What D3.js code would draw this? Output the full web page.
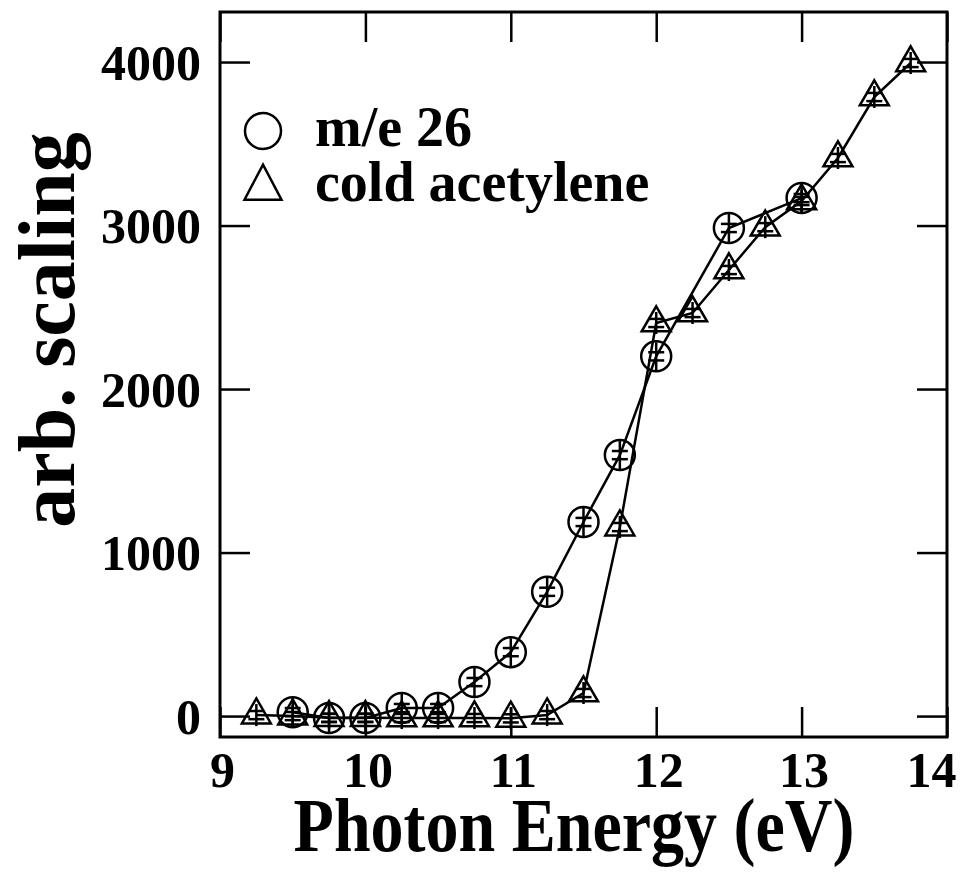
<!DOCTYPE html>
<html>
<head>
<meta charset="utf-8">
<script src="https://cdn.jsdelivr.net/npm/d3@7"></script>
<style>
  html, body { margin: 0; padding: 0; background: #fff; }
  svg { display: block; }
  text { font-family: "Liberation Serif", "Times New Roman", serif; font-weight: bold; fill: #000; }
</style>
</head>
<body>
<svg id="chart" width="961" height="885"></svg>
<script>
// Photoionization yield vs photon energy
const circleEnergy = [9.5, 9.75, 10.0, 10.25, 10.5, 10.75, 11.0, 11.25, 11.5, 11.75, 12.0, 12.5, 13.0];
const circleSignal = [24, -12, -12, 49, 49, 208, 391, 760, 1187, 1596, 2200, 2985, 3168];
const circleError  = [25, 25, 25, 25, 25, 25, 25, 25, 25, 25, 25, 25, 25];

const triEnergy = [9.25, 9.5, 9.75, 10.0, 10.25, 10.5, 10.75, 11.0, 11.25, 11.5, 11.75, 12.0, 12.25, 12.5, 12.75, 13.0, 13.25, 13.5, 13.75];
const triSignal = [6, 0, -10, -10, -12, -12, -12, -14, 6, 141, 1156, 2404, 2465, 2728, 2990, 3150, 3413, 3786, 3994];
const triError  = [25, 25, 25, 25, 25, 25, 25, 25, 25, 25, 25, 25, 25, 25, 25, 25, 25, 25, 25];

const xTicks = [9, 10, 11, 12, 13, 14];
const yTicks = [0, 1000, 2000, 3000, 4000];
const legendLabels = ["m/e 26", "cold acetylene"];
const xTitle = "Photon Energy (eV)";
const yTitle = "arb. scaling";

const svg = d3.select("#chart");
const plotL = 220, plotR = 947, plotT = 12, plotB = 737;

const x = d3.scaleLinear().domain([9, 14]).range([plotL, plotR]);
const y = d3.scaleLinear().domain([-128, 4306]).range([plotB, plotT]);

const tickLen = 30;
const tickFont = "50px";

// frame axes with inward ticks on all four sides
const axes = [
  { a: d3.axisBottom(x).tickValues(xTicks), t: `translate(0,${plotB})`, labels: true },
  { a: d3.axisTop(x).tickValues(xTicks), t: `translate(0,${plotT})`, labels: false },
  { a: d3.axisLeft(y).tickValues(yTicks), t: `translate(${plotL},0)`, labels: true },
  { a: d3.axisRight(y).tickValues(yTicks), t: `translate(${plotR},0)`, labels: false }
];
axes.forEach(({ a, t, labels }, i) => {
  a.tickSizeInner(-tickLen).tickSizeOuter(0).tickFormat(d3.format("d"));
  const g = svg.append("g").attr("transform", t).call(a);
  g.select(".domain").remove();
  g.selectAll(".tick line").attr("stroke", "#000").attr("stroke-width", 2.5);
  if (!labels) { g.selectAll(".tick text").remove(); return; }
  const txt = g.selectAll(".tick text")
    .style("font-size", tickFont)
    .style("font-family", "'Liberation Serif', serif")
    .style("font-weight", "bold");
  if (i === 0) {
    // keep the right-most label inside the page
    txt.attr("y", 50).attr("dy", 0)
      .attr("x", d => d === d3.max(xTicks) ? -16 : 2);
  } else {
    txt.attr("x", -19).attr("dy", "0.34em");
  }
});
svg.append("rect")
  .attr("x", plotL).attr("y", plotT)
  .attr("width", plotR - plotL).attr("height", plotB - plotT)
  .attr("fill", "none").attr("stroke", "#000").attr("stroke-width", 3);

// connecting lines
const line = d3.line().x(d => x(d[0])).y(d => y(d[1]));
const circData = circleEnergy.map((e, i) => [e, circleSignal[i], circleError[i]]);
const triData = triEnergy.map((e, i) => [e, triSignal[i], triError[i]]);

svg.append("path").datum(triData).attr("d", line)
  .attr("fill", "none").attr("stroke", "#000").attr("stroke-width", 2.5);
svg.append("path").datum(circData).attr("d", line)
  .attr("fill", "none").attr("stroke", "#000").attr("stroke-width", 2.5);

const triPath = (w, h) => `M0,${-2 * h / 3}L${w / 2},${h / 3}L${-w / 2},${h / 3}Z`;

function errorBars(g, stem) {
  g.append("line").attr("x1", 0).attr("x2", 0).attr("y1", -stem).attr("y2", stem);
  g.append("line").attr("x1", -8).attr("x2", 8)
    .attr("y1", d => y(d[1] + d[2]) - y(d[1])).attr("y2", d => y(d[1] + d[2]) - y(d[1]));
  g.append("line").attr("x1", -8).attr("x2", 8)
    .attr("y1", d => y(d[1] - d[2]) - y(d[1])).attr("y2", d => y(d[1] - d[2]) - y(d[1]));
}

const triG = svg.append("g").selectAll("g").data(triData).join("g")
  .attr("transform", d => `translate(${x(d[0])},${y(d[1])})`)
  .attr("stroke", "#000").attr("stroke-width", 2.5).attr("fill", "none");
triG.append("path").attr("d", triPath(29, 25));
errorBars(triG, 11);

const circG = svg.append("g").selectAll("g").data(circData).join("g")
  .attr("transform", d => `translate(${x(d[0])},${y(d[1])})`)
  .attr("stroke", "#000").attr("stroke-width", 2.5).attr("fill", "none");
circG.append("circle").attr("r", 15);
errorBars(circG, 14);

// legend
const leg = svg.append("g");
leg.append("circle").attr("cx", 263).attr("cy", 131).attr("r", 18)
  .attr("fill", "none").attr("stroke", "#000").attr("stroke-width", 2.5);
leg.append("path").attr("d", triPath(37, 35)).attr("transform", "translate(263,188)")
  .attr("fill", "none").attr("stroke", "#000").attr("stroke-width", 2.5);
leg.selectAll("text").data(legendLabels).join("text")
  .attr("x", 315).attr("y", (d, i) => 146 + i * 55)
  .style("font-size", "56px")
  .text(d => d);

// axis titles
svg.append("text")
  .attr("transform", "translate(574,851) scale(1,1.15)")
  .attr("text-anchor", "middle")
  .style("font-size", "66px")
  .text(xTitle);
svg.append("text")
  .attr("transform", "translate(74,330) rotate(-90)")
  .attr("text-anchor", "middle")
  .style("font-size", "80px")
  .text(yTitle);
</script>
</body>
</html>
